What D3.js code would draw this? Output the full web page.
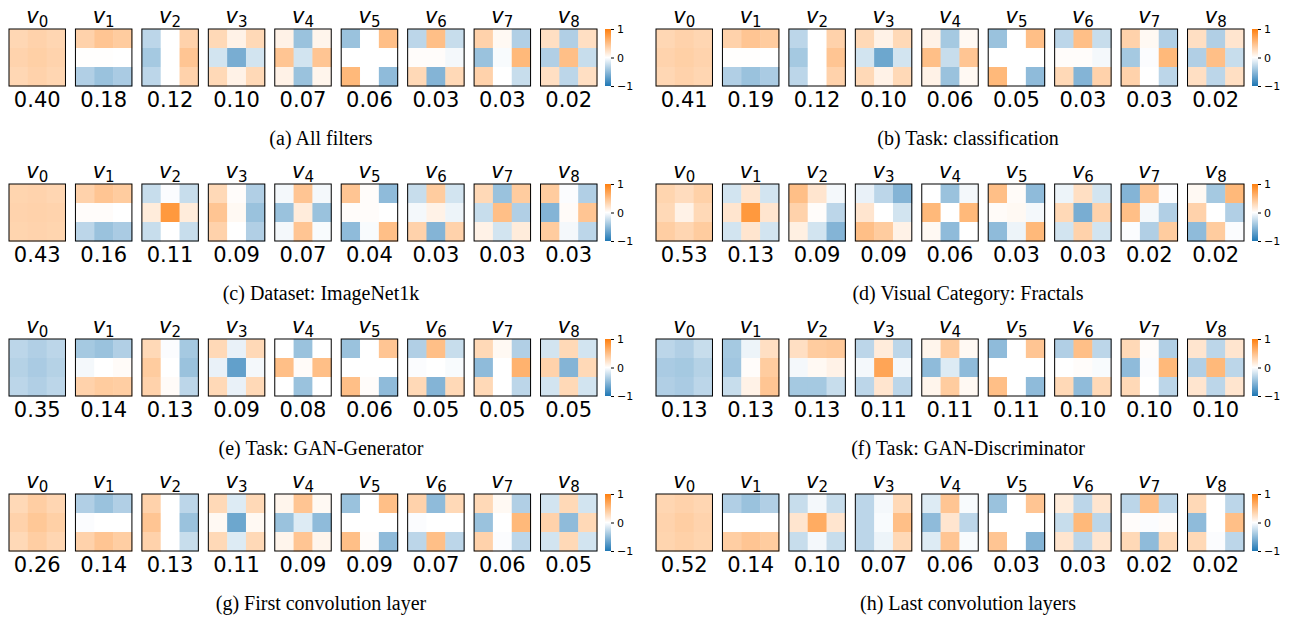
<!DOCTYPE html>
<html>
<head>
<meta charset="utf-8">
<script src="https://cdn.jsdelivr.net/npm/d3@7"></script>
<style>
  body { margin: 0; background: #fff; }
  svg { display: block; }
</style>
</head>
<body>
<svg id="chart" width="1297" height="621"></svg>
<script>
// Sub-figure captions, in reading order (left column, right column, row by row)
const captions = [
  "(a) All filters", "(b) Task: classification",
  "(c) Dataset: ImageNet1k", "(d) Visual Category: Fractals",
  "(e) Task: GAN-Generator", "(f) Task: GAN-Discriminator",
  "(g) First convolution layer", "(h) Last convolution layers"
];

const basisNames = ["0", "1", "2", "3", "4", "5", "6", "7", "8"];
const colorbarTicks = [-1, 0, 1];

// Explained-variance ratio of each basis vector
const ratiosA = [0.40, 0.18, 0.12, 0.10, 0.07, 0.06, 0.03, 0.03, 0.02];
const ratiosB = [0.41, 0.19, 0.12, 0.10, 0.06, 0.05, 0.03, 0.03, 0.02];
const ratiosC = [0.43, 0.16, 0.11, 0.09, 0.07, 0.04, 0.03, 0.03, 0.03];
const ratiosD = [0.53, 0.13, 0.09, 0.09, 0.06, 0.03, 0.03, 0.02, 0.02];
const ratiosE = [0.35, 0.14, 0.13, 0.09, 0.08, 0.06, 0.05, 0.05, 0.05];
const ratiosF = [0.13, 0.13, 0.13, 0.11, 0.11, 0.11, 0.10, 0.10, 0.10];
const ratiosG = [0.26, 0.14, 0.13, 0.11, 0.09, 0.09, 0.07, 0.06, 0.05];
const ratiosH = [0.52, 0.14, 0.10, 0.07, 0.06, 0.03, 0.03, 0.02, 0.02];

// 3x3 basis vectors, row-major (top row, middle row, bottom row)
const filtersA = [
  [0.31, 0.35, 0.32, 0.34, 0.37, 0.34, 0.31, 0.35, 0.32],
  [0.35, 0.45, 0.40, 0.01, 0.01, 0.00, -0.35, -0.45, -0.38],
  [-0.30, 0.00, 0.35, -0.40, 0.00, 0.45, -0.30, 0.00, 0.35],
  [0.30, 0.10, 0.30, -0.20, -0.60, -0.20, 0.30, 0.10, 0.30],
  [0.10, -0.45, 0.08, 0.45, -0.20, 0.45, 0.10, -0.45, 0.08],
  [-0.45, 0.00, 0.50, 0.00, 0.00, 0.00, 0.55, 0.00, -0.50],
  [-0.30, 0.50, -0.25, 0.02, 0.02, -0.05, 0.30, -0.55, 0.30],
  [0.35, 0.05, -0.35, -0.45, -0.03, 0.55, 0.35, 0.00, -0.25],
  [0.25, -0.35, 0.25, -0.35, 0.50, -0.25, 0.25, -0.30, 0.25]
];
const filtersB = [
  [0.31, 0.35, 0.32, 0.34, 0.37, 0.34, 0.31, 0.35, 0.32],
  [0.35, 0.45, 0.40, 0.01, 0.01, 0.00, -0.35, -0.45, -0.38],
  [-0.30, 0.00, 0.35, -0.40, 0.00, 0.45, -0.30, 0.00, 0.35],
  [0.30, 0.10, 0.30, -0.20, -0.65, -0.20, 0.30, 0.10, 0.30],
  [0.10, -0.40, 0.05, 0.50, -0.25, 0.45, 0.10, -0.45, 0.05],
  [-0.45, 0.00, 0.50, 0.00, 0.00, 0.00, 0.55, 0.00, -0.50],
  [-0.30, 0.50, -0.25, 0.02, 0.02, -0.05, 0.30, -0.55, 0.35],
  [0.35, 0.05, -0.35, -0.40, -0.02, 0.55, 0.35, 0.00, -0.30],
  [0.25, -0.35, 0.20, -0.35, 0.50, -0.25, 0.25, -0.30, 0.25]
];
const filtersC = [
  [0.33, 0.34, 0.32, 0.34, 0.35, 0.34, 0.33, 0.34, 0.33],
  [0.35, 0.45, 0.40, 0.02, 0.02, 0.00, -0.30, -0.45, -0.38],
  [-0.25, -0.02, -0.25, 0.15, 0.80, 0.15, -0.25, 0.00, -0.25],
  [0.30, 0.02, -0.35, 0.45, 0.05, -0.45, 0.35, 0.00, -0.35],
  [-0.05, 0.45, -0.05, -0.45, 0.15, -0.45, -0.05, 0.45, -0.03],
  [0.45, 0.02, -0.50, 0.02, 0.02, 0.00, -0.50, -0.03, 0.50],
  [-0.25, 0.40, -0.20, -0.05, 0.10, -0.08, 0.35, -0.55, 0.35],
  [0.30, -0.45, 0.40, -0.25, 0.50, -0.35, 0.10, -0.20, 0.15],
  [0.40, -0.02, -0.35, -0.55, 0.03, 0.45, 0.40, -0.05, -0.30]
];
const filtersD = [
  [0.33, 0.27, 0.36, 0.30, 0.10, 0.30, 0.38, 0.32, 0.40],
  [-0.20, 0.20, -0.20, 0.20, 0.80, 0.20, -0.20, 0.20, -0.20],
  [0.50, 0.20, -0.05, 0.35, 0.02, -0.30, 0.12, -0.20, -0.55],
  [-0.10, -0.30, -0.55, 0.20, 0.00, -0.20, 0.50, 0.40, 0.10],
  [0.00, -0.45, -0.05, 0.55, 0.00, 0.55, 0.05, -0.50, 0.00],
  [0.50, 0.03, -0.50, 0.03, 0.05, -0.05, -0.50, -0.08, 0.55],
  [-0.08, 0.25, -0.20, 0.30, -0.60, 0.35, -0.20, 0.35, -0.20],
  [-0.55, 0.45, -0.02, 0.50, -0.05, -0.35, -0.02, -0.35, 0.40],
  [0.05, -0.40, 0.55, 0.35, 0.00, -0.35, -0.50, 0.40, -0.02]
];
const filtersE = [
  [-0.30, -0.35, -0.30, -0.33, -0.38, -0.33, -0.30, -0.35, -0.30],
  [-0.40, -0.45, -0.35, -0.05, 0.00, 0.03, 0.35, 0.40, 0.38],
  [0.30, -0.02, -0.40, 0.40, 0.00, -0.45, 0.35, 0.03, -0.30],
  [0.30, -0.10, 0.30, -0.10, -0.70, -0.05, 0.30, -0.10, 0.30],
  [0.00, -0.45, 0.00, 0.50, 0.03, 0.50, 0.00, -0.45, 0.00],
  [-0.45, 0.00, 0.45, 0.00, 0.00, 0.00, 0.50, 0.02, -0.50],
  [-0.35, 0.50, -0.25, -0.02, 0.00, -0.03, 0.30, -0.55, 0.30],
  [0.30, 0.05, -0.35, -0.50, 0.00, 0.60, 0.30, 0.00, -0.30],
  [-0.20, 0.30, -0.20, 0.35, -0.55, 0.30, -0.20, 0.30, -0.20]
];
const filtersF = [
  [-0.30, -0.35, -0.25, -0.38, -0.40, -0.33, -0.35, -0.38, -0.30],
  [-0.40, -0.08, 0.25, -0.42, 0.02, 0.40, -0.25, 0.10, 0.45],
  [0.25, 0.40, 0.42, -0.05, 0.05, 0.10, -0.40, -0.40, -0.25],
  [-0.30, 0.15, -0.30, -0.05, 0.70, -0.05, -0.30, 0.20, -0.30],
  [0.08, 0.40, 0.05, -0.50, -0.15, -0.50, 0.08, 0.40, 0.05],
  [-0.50, 0.00, 0.45, 0.00, 0.00, 0.00, 0.50, 0.00, -0.50],
  [-0.35, 0.50, -0.30, 0.00, 0.02, -0.03, 0.30, -0.50, 0.30],
  [0.30, 0.02, -0.35, -0.50, -0.02, 0.55, 0.30, 0.00, -0.30],
  [0.20, -0.30, 0.20, -0.35, 0.55, -0.30, 0.20, -0.30, 0.20]
];
const filtersG = [
  [0.30, 0.38, 0.32, 0.35, 0.43, 0.37, 0.30, 0.38, 0.32],
  [-0.35, -0.45, -0.35, -0.02, 0.00, 0.00, 0.35, 0.45, 0.38],
  [0.35, 0.00, -0.30, 0.45, 0.00, -0.45, 0.35, 0.00, -0.25],
  [0.30, -0.15, 0.30, 0.05, -0.65, 0.05, 0.30, -0.15, 0.30],
  [0.08, 0.45, 0.05, -0.45, -0.15, -0.50, 0.08, 0.45, 0.08],
  [-0.45, 0.00, 0.50, 0.00, 0.00, 0.00, 0.50, 0.02, -0.50],
  [0.35, -0.50, 0.30, -0.02, 0.00, 0.00, -0.30, 0.50, -0.30],
  [0.30, 0.05, -0.35, -0.45, 0.00, 0.55, 0.35, -0.02, -0.30],
  [-0.20, 0.30, -0.20, 0.35, -0.50, 0.30, -0.20, 0.30, -0.20]
];
const filtersH = [
  [0.32, 0.35, 0.32, 0.34, 0.38, 0.34, 0.33, 0.36, 0.33],
  [-0.35, -0.45, -0.35, 0.00, 0.00, 0.00, 0.38, 0.45, 0.40],
  [-0.25, -0.05, -0.25, 0.20, 0.65, 0.20, -0.25, -0.05, -0.25],
  [-0.30, -0.05, 0.30, -0.30, -0.03, 0.50, -0.30, -0.08, 0.30],
  [-0.15, 0.45, -0.03, -0.50, 0.20, -0.30, -0.15, 0.45, -0.03],
  [-0.45, 0.00, 0.45, 0.00, 0.00, 0.00, 0.45, 0.00, -0.55],
  [0.15, -0.30, 0.20, -0.25, 0.55, -0.30, 0.20, -0.30, 0.20],
  [-0.30, 0.50, -0.30, 0.02, -0.02, 0.02, 0.30, -0.50, 0.30],
  [0.30, 0.00, -0.30, -0.50, 0.00, 0.50, 0.30, -0.02, -0.30]
];

const panels = [
  { caption: captions[0], ratios: ratiosA, filters: filtersA },
  { caption: captions[1], ratios: ratiosB, filters: filtersB },
  { caption: captions[2], ratios: ratiosC, filters: filtersC },
  { caption: captions[3], ratios: ratiosD, filters: filtersD },
  { caption: captions[4], ratios: ratiosE, filters: filtersE },
  { caption: captions[5], ratios: ratiosF, filters: filtersF },
  { caption: captions[6], ratios: ratiosG, filters: filtersG },
  { caption: captions[7], ratios: ratiosH, filters: filtersH }
];

// ---- layout ----
const panelW = 647, panelH = 155;
const boxTop = 29, boxSize = 57;

const svg = d3.select("#chart");

// diverging blue - white - orange colormap
const color = d3.scaleLinear()
  .domain([-1, 0, 1])
  .range(["#1f77b4", "#ffffff", "#ff7f0e"])
  .interpolate(d3.interpolateRgb);

// one shared gradient for all colorbars
const grad = svg.append("defs").append("linearGradient")
  .attr("id", "cbar").attr("x1", 0).attr("y1", 1).attr("x2", 0).attr("y2", 0);
d3.range(0, 1.0001, 0.05).forEach(t => {
  grad.append("stop").attr("offset", t).attr("stop-color", color(-1 + 2 * t));
});

const boxX = d3.scaleBand().domain(basisNames).range([9, 597]).paddingInner(0.15);
const cell = d3.scaleBand().domain([0, 1, 2]).range([0, boxSize]);

panels.forEach((p, i) => {
  const col = i % 2, row = Math.floor(i / 2);
  const g = svg.append("g")
    .attr("transform", `translate(${col * panelW},${row * panelH})`);

  const boxes = g.selectAll("g.basis")
    .data(p.filters.map((f, k) => ({ name: basisNames[k], vals: f, ratio: p.ratios[k] })))
    .join("g")
    .attr("class", "basis")
    .attr("transform", d => `translate(${boxX(d.name)},${boxTop})`);

  const bw = boxX.bandwidth();
  const cellX = d3.scaleBand().domain([0, 1, 2]).range([0, bw]);

  boxes.selectAll("rect.cell")
    .data(d => d.vals.map((v, j) => ({ v, r: Math.floor(j / 3), c: j % 3 })))
    .join("rect")
    .attr("class", "cell")
    .attr("x", d => cellX(d.c))
    .attr("y", d => cell(d.r))
    .attr("width", cellX.bandwidth() + 0.5)
    .attr("height", cell.bandwidth() + 0.5)
    .attr("fill", d => color(d.v));

  boxes.append("rect")
    .attr("width", bw).attr("height", boxSize)
    .attr("fill", "none").attr("stroke", "#000").attr("stroke-width", 1);

  // v_k titles
  const t = boxes.append("text")
    .attr("x", bw / 2).attr("y", -6)
    .attr("text-anchor", "middle")
    .attr("font-family", "DejaVu Sans")
    .attr("font-size", 21);
  t.append("tspan").attr("font-style", "italic").text("v");
  t.append("tspan").attr("font-size", 15).attr("dy", 4).text(d => d.name);

  // variance ratios under each filter
  boxes.append("text")
    .attr("x", bw / 2).attr("y", boxSize + 21)
    .attr("text-anchor", "middle")
    .attr("font-family", "DejaVu Sans")
    .attr("font-size", 21)
    .text(d => d3.format(".2f")(d.ratio));

  // colorbar
  const cbX = 605, cbW = 6;
  g.append("rect")
    .attr("x", cbX).attr("y", boxTop)
    .attr("width", cbW).attr("height", boxSize)
    .attr("fill", "url(#cbar)");
  const cbScale = d3.scaleLinear().domain([-1, 1]).range([boxTop + boxSize, boxTop]);
  const ax = g.append("g")
    .attr("transform", `translate(${cbX + cbW},0)`)
    .call(d3.axisRight(cbScale).tickValues(colorbarTicks).tickFormat(d3.format("d"))
      .tickSize(3).tickPadding(3));
  ax.select(".domain").remove();
  ax.selectAll("text").attr("font-family", "DejaVu Sans").attr("font-size", 11).attr("fill", "#000");
  ax.selectAll("line").attr("stroke", "#000");

  // caption
  g.append("text")
    .attr("x", 321).attr("y", 145)
    .attr("text-anchor", "middle")
    .attr("font-family", "Liberation Serif")
    .attr("font-size", 20)
    .text(p.caption);
});
</script>
</body>
</html>
